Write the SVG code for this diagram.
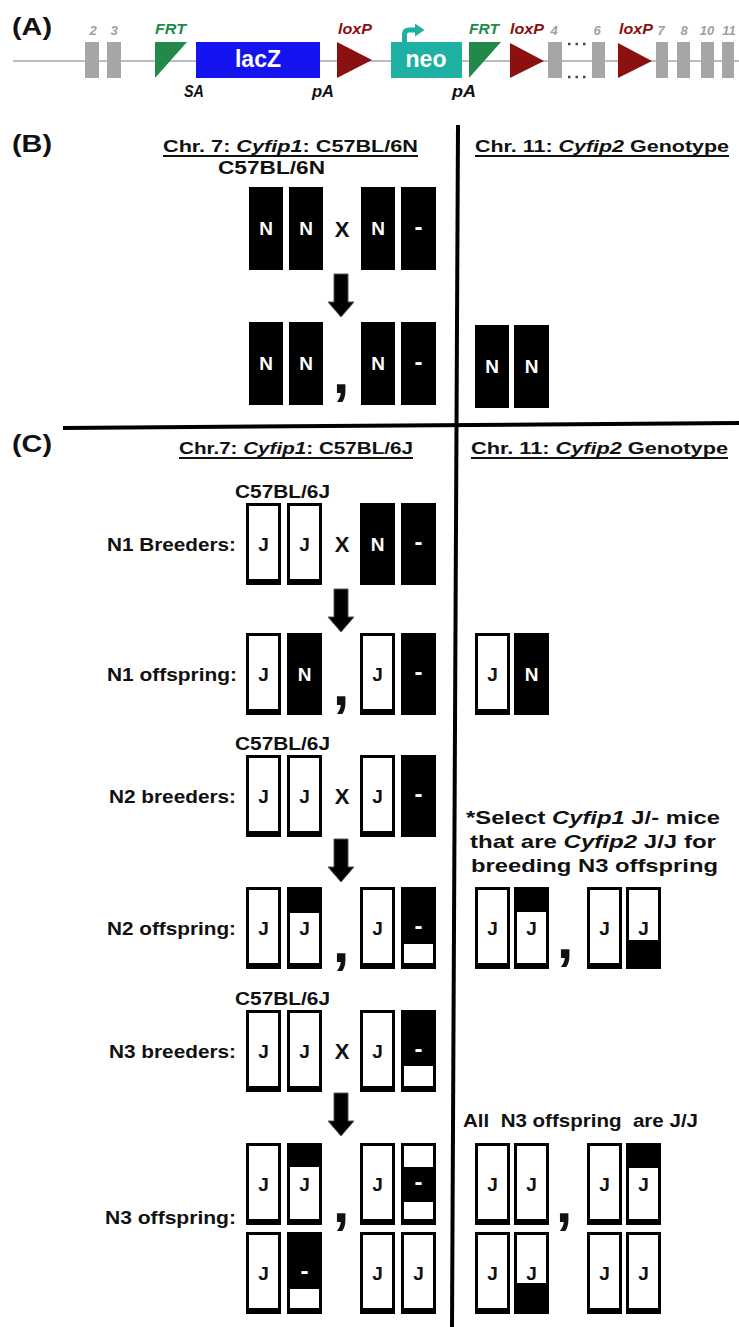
<svg xmlns="http://www.w3.org/2000/svg" width="739" height="1327" viewBox="0 0 739 1327">
<style>
text{font-family:"Liberation Sans",Arial,sans-serif;font-weight:bold}
.pl{font-size:24px;fill:#111}
.ex{font-size:13px;fill:#a0a0a0;font-style:italic;text-anchor:middle}
.frt{fill:#23894b;font-size:15px;font-style:italic}
.lox{fill:#8b1010;font-size:15px;font-style:italic}
.in{fill:#fff;font-size:23px;text-anchor:middle}
.sa{fill:#111;font-size:16px;font-style:italic}
.hd{font-size:17px;fill:#111}
.st{font-size:18px;fill:#111}
.rl{font-size:19px;fill:#111}
.tx{font-size:19px;fill:#111}
.J{font-size:19px;fill:#111;text-anchor:middle}
.N{font-size:19px;fill:#fff;text-anchor:middle}
.D{font-size:24px;fill:#fff;text-anchor:middle}
.X{font-size:22px;fill:#111;text-anchor:middle}
.cm{font-size:60px;fill:#111;text-anchor:middle}
.k{fill:#000}
.w{fill:#fff}
.exon{fill:#a6a6a6}
.ul{stroke:#111;stroke-width:2}
.arr{fill:#000;stroke:#555;stroke-width:1}
</style>
<rect width="739" height="1327" fill="#fff"/>

<!-- Part A -->
<g id="partA">
<text class="pl" x="12" y="35" textLength="40" lengthAdjust="spacingAndGlyphs">(A)</text>
<line x1="13" y1="61" x2="739" y2="61" stroke="#bdbdbd" stroke-width="2"/>
<g id="exon2"><rect class="exon" x="85" y="42" width="14" height="36"/><text class="ex" x="93" y="35">2</text></g>
<g id="exon3"><rect class="exon" x="107" y="42" width="14" height="36"/><text class="ex" x="114" y="35">3</text></g>
<g id="frt1"><polygon points="155,42 187,42 155,78" fill="#23894b"/><text class="frt" x="155" y="34" textLength="31" lengthAdjust="spacingAndGlyphs">FRT</text></g>
<g id="lacZ"><rect x="196" y="42" width="124" height="36" fill="#1414f0"/><text class="in" x="258" y="67">lacZ</text></g>
<text class="sa" x="184" y="97" textLength="20" lengthAdjust="spacingAndGlyphs">SA</text>
<text class="sa" x="312" y="97" textLength="22" lengthAdjust="spacingAndGlyphs">pA</text>
<g id="loxP1"><polygon points="337,42 337,78 372,60" fill="#8b1010"/><text class="lox" x="338" y="34" textLength="34" lengthAdjust="spacingAndGlyphs">loxP</text></g>
<g id="neo"><rect x="391" y="42" width="71" height="36" fill="#1fb0a4"/><text class="in" x="426" y="67">neo</text>
<path d="M404.5,42 V34 Q404.5,30 409,30 H416" fill="none" stroke="#1fb0a4" stroke-width="5"/>
<polygon points="415,23.5 424.5,30 415,36.5" fill="#1fb0a4"/></g>
<g id="frt2"><polygon points="469,42 501,42 469,78" fill="#23894b"/><text class="frt" x="469" y="34" textLength="30" lengthAdjust="spacingAndGlyphs">FRT</text></g>
<text class="sa" x="452" y="97" textLength="24" lengthAdjust="spacingAndGlyphs">pA</text>
<g id="loxP2"><polygon points="510,43 510,78 544,61" fill="#8b1010"/><text class="lox" x="510" y="34" textLength="34" lengthAdjust="spacingAndGlyphs">loxP</text></g>
<g id="exon4"><rect class="exon" x="548" y="42" width="14" height="36"/><text class="ex" x="554" y="35">4</text></g>
<line x1="568" y1="44" x2="590" y2="44" stroke="#444" stroke-width="2.5" stroke-dasharray="2.5 5"/>
<line x1="568" y1="77" x2="590" y2="77" stroke="#444" stroke-width="2.5" stroke-dasharray="2.5 5"/>
<g id="exon6"><rect class="exon" x="592" y="42" width="13" height="36"/><text class="ex" x="597" y="35">6</text></g>
<g id="loxP3"><polygon points="618,43 618,78 652,61" fill="#8b1010"/><text class="lox" x="619" y="34" textLength="34" lengthAdjust="spacingAndGlyphs">loxP</text></g>
<g id="exon7"><rect class="exon" x="656" y="42" width="12" height="36"/><text class="ex" x="661" y="35">7</text></g>
<g id="exon8"><rect class="exon" x="677" y="42" width="13" height="36"/><text class="ex" x="684" y="35">8</text></g>
<g id="exon10"><rect class="exon" x="701" y="42" width="13" height="36"/><text class="ex" x="707" y="35">10</text></g>
<g id="exon11"><rect class="exon" x="722" y="42" width="12" height="36"/><text class="ex" x="729" y="35">11</text></g>
</g>

<!-- dividers -->
<g id="dividers">
<line x1="458" y1="125" x2="452" y2="1327" stroke="#000" stroke-width="4"/>
<line x1="63" y1="428" x2="739" y2="423" stroke="#000" stroke-width="4"/>
</g>

<!-- Part B -->
<g id="partB-labels">
<text class="pl" x="12" y="152" textLength="40" lengthAdjust="spacingAndGlyphs">(B)</text>
<text class="hd" x="163" y="152" textLength="255" lengthAdjust="spacingAndGlyphs">Chr. 7: <tspan font-style="italic">Cyfip1</tspan>: C57BL/6N</text>
<line class="ul" x1="163" y1="156" x2="418" y2="156"/>
<text class="hd" x="475" y="152" textLength="254" lengthAdjust="spacingAndGlyphs">Chr. 11: <tspan font-style="italic">Cyfip2</tspan> Genotype</text>
<line class="ul" x1="475" y1="156" x2="729" y2="156"/>
<text class="st" x="218" y="174" textLength="107" lengthAdjust="spacingAndGlyphs">C57BL/6N</text>
<text class="X" x="342" y="237">X</text>
<text class="cm" x="341" y="393">,</text>
</g>
<g id="B1a"><rect class="k" x="249" y="187" width="34" height="83"/><text class="N" x="266" y="235">N</text></g>
<g id="B1b"><rect class="k" x="289" y="187" width="34" height="83"/><text class="N" x="306" y="235">N</text></g>
<g id="B1c"><rect class="k" x="361" y="187" width="34" height="83"/><text class="N" x="378" y="235">N</text></g>
<g id="B1d"><rect class="k" x="401" y="187" width="35" height="83"/><text class="D" x="418.5" y="235">-</text></g>
<g id="B2a"><rect class="k" x="249" y="322" width="34" height="83"/><text class="N" x="266" y="370">N</text></g>
<g id="B2b"><rect class="k" x="289" y="322" width="34" height="83"/><text class="N" x="306" y="370">N</text></g>
<g id="B2c"><rect class="k" x="361" y="322" width="34" height="83"/><text class="N" x="378" y="370">N</text></g>
<g id="B2d"><rect class="k" x="401" y="322" width="35" height="83"/><text class="D" x="418.5" y="370">-</text></g>
<g id="BRa"><rect class="k" x="475" y="325" width="34" height="83"/><text class="N" x="492" y="373">N</text></g>
<g id="BRb"><rect class="k" x="514" y="325" width="35" height="83"/><text class="N" x="531.5" y="373">N</text></g>

<!-- Part C labels -->
<g id="partC-labels">
<text class="pl" x="12" y="452" textLength="40" lengthAdjust="spacingAndGlyphs">(C)</text>
<text class="hd" x="179" y="454" textLength="234" lengthAdjust="spacingAndGlyphs">Chr.7: <tspan font-style="italic">Cyfip1</tspan>: C57BL/6J</text>
<line class="ul" x1="179" y1="458" x2="413" y2="458"/>
<text class="hd" x="471" y="454" textLength="257" lengthAdjust="spacingAndGlyphs">Chr. 11: <tspan font-style="italic">Cyfip2</tspan> Genotype</text>
<line class="ul" x1="471" y1="458" x2="728" y2="458"/>
<text class="st" x="235" y="498" textLength="95" lengthAdjust="spacingAndGlyphs">C57BL/6J</text>
<text class="st" x="235" y="750" textLength="95" lengthAdjust="spacingAndGlyphs">C57BL/6J</text>
<text class="st" x="235" y="1005" textLength="95" lengthAdjust="spacingAndGlyphs">C57BL/6J</text>
<text class="rl" x="107" y="551" textLength="129" lengthAdjust="spacingAndGlyphs">N1 Breeders:</text>
<text class="rl" x="107" y="681" textLength="130" lengthAdjust="spacingAndGlyphs">N1 offspring:</text>
<text class="rl" x="109" y="803" textLength="127" lengthAdjust="spacingAndGlyphs">N2 breeders:</text>
<text class="rl" x="107" y="935" textLength="129" lengthAdjust="spacingAndGlyphs">N2 offspring:</text>
<text class="rl" x="109" y="1058" textLength="127" lengthAdjust="spacingAndGlyphs">N3 breeders:</text>
<text class="rl" x="105" y="1224" textLength="131" lengthAdjust="spacingAndGlyphs">N3 offspring:</text>
<text class="X" x="342" y="552">X</text>
<text class="X" x="342" y="804">X</text>
<text class="X" x="342" y="1059">X</text>
<text class="cm" x="341" y="705">,</text>
<text class="cm" x="341" y="962">,</text>
<text class="cm" x="565" y="958">,</text>
<text class="cm" x="341" y="1222">,</text>
<text class="cm" x="564" y="1222">,</text>
<text class="tx" x="466" y="824" textLength="254" lengthAdjust="spacingAndGlyphs">*Select <tspan font-style="italic">Cyfip1</tspan> J/- mice</text>
<text class="tx" x="470" y="848" textLength="246" lengthAdjust="spacingAndGlyphs">that are <tspan font-style="italic">Cyfip2</tspan> J/J for</text>
<text class="tx" x="471" y="872" textLength="247" lengthAdjust="spacingAndGlyphs">breeding N3 offspring</text>
<text class="tx" x="463" y="1127" textLength="235" lengthAdjust="spacingAndGlyphs" style="white-space:pre">All  N3 offspring  are J/J</text>
</g>

<!-- N1 breeders -->
<g id="C1a"><rect class="k" x="246" y="503" width="35" height="82"/><rect class="w" x="249" y="506" width="29" height="73"/><text class="J" x="263.5" y="551">J</text></g>
<g id="C1b"><rect class="k" x="287" y="503" width="35" height="82"/><rect class="w" x="290" y="506" width="29" height="73"/><text class="J" x="304.5" y="551">J</text></g>
<g id="C1c"><rect class="k" x="360" y="503" width="35" height="82"/><text class="N" x="377.5" y="551">N</text></g>
<g id="C1d"><rect class="k" x="401" y="503" width="35" height="82"/><text class="D" x="418.5" y="550">-</text></g>

<!-- N1 offspring -->
<g id="C2a"><rect class="k" x="246" y="633" width="35" height="82"/><rect class="w" x="249" y="636" width="29" height="73"/><text class="J" x="263.5" y="681">J</text></g>
<g id="C2b"><rect class="k" x="287" y="633" width="35" height="82"/><text class="N" x="304.5" y="681">N</text></g>
<g id="C2c"><rect class="k" x="360" y="633" width="35" height="82"/><rect class="w" x="363" y="636" width="29" height="73"/><text class="J" x="377.5" y="681">J</text></g>
<g id="C2d"><rect class="k" x="401" y="633" width="35" height="82"/><text class="D" x="418.5" y="680">-</text></g>
<g id="C2R1"><rect class="k" x="475" y="633" width="35" height="82"/><rect class="w" x="478" y="636" width="29" height="73"/><text class="J" x="492.5" y="681">J</text></g>
<g id="C2R2"><rect class="k" x="514" y="633" width="35" height="82"/><text class="N" x="531.5" y="681">N</text></g>

<!-- N2 breeders -->
<g id="C3a"><rect class="k" x="246" y="755" width="35" height="82"/><rect class="w" x="249" y="758" width="29" height="73"/><text class="J" x="263.5" y="803">J</text></g>
<g id="C3b"><rect class="k" x="287" y="755" width="35" height="82"/><rect class="w" x="290" y="758" width="29" height="73"/><text class="J" x="304.5" y="803">J</text></g>
<g id="C3c"><rect class="k" x="360" y="755" width="35" height="82"/><rect class="w" x="363" y="758" width="29" height="73"/><text class="J" x="377.5" y="803">J</text></g>
<g id="C3d"><rect class="k" x="401" y="755" width="35" height="82"/><text class="D" x="418.5" y="802">-</text></g>

<!-- N2 offspring -->
<g id="C4a"><rect class="k" x="246" y="887" width="35" height="82"/><rect class="w" x="249" y="890" width="29" height="73"/><text class="J" x="263.5" y="935">J</text></g>
<g id="C4b"><rect class="k" x="287" y="887" width="35" height="82"/><rect class="w" x="290" y="913" width="29" height="50"/><text class="J" x="304.5" y="935">J</text></g>
<g id="C4c"><rect class="k" x="360" y="887" width="35" height="82"/><rect class="w" x="363" y="890" width="29" height="73"/><text class="J" x="377.5" y="935">J</text></g>
<g id="C4d"><rect class="k" x="401" y="887" width="35" height="82"/><rect class="w" x="404" y="944" width="29" height="19"/><text class="D" x="418.5" y="934">-</text></g>
<g id="C4R1"><rect class="k" x="475" y="887" width="35" height="82"/><rect class="w" x="478" y="890" width="29" height="73"/><text class="J" x="492.5" y="935">J</text></g>
<g id="C4R2"><rect class="k" x="514" y="887" width="35" height="82"/><rect class="w" x="517" y="912" width="29" height="51"/><text class="J" x="531.5" y="935">J</text></g>
<g id="C4R3"><rect class="k" x="587" y="887" width="35" height="82"/><rect class="w" x="590" y="890" width="29" height="73"/><text class="J" x="604.5" y="935">J</text></g>
<g id="C4R4"><rect class="k" x="626" y="887" width="35" height="82"/><rect class="w" x="629" y="890" width="29" height="50"/><text class="J" x="643.5" y="935">J</text></g>

<!-- N3 breeders -->
<g id="C5a"><rect class="k" x="246" y="1010" width="35" height="82"/><rect class="w" x="249" y="1013" width="29" height="73"/><text class="J" x="263.5" y="1058">J</text></g>
<g id="C5b"><rect class="k" x="287" y="1010" width="35" height="82"/><rect class="w" x="290" y="1013" width="29" height="73"/><text class="J" x="304.5" y="1058">J</text></g>
<g id="C5c"><rect class="k" x="360" y="1010" width="35" height="82"/><rect class="w" x="363" y="1013" width="29" height="73"/><text class="J" x="377.5" y="1058">J</text></g>
<g id="C5d"><rect class="k" x="401" y="1010" width="35" height="82"/><rect class="w" x="404" y="1066" width="29" height="20"/><text class="D" x="418.5" y="1057">-</text></g>

<!-- N3 offspring row 1 -->
<g id="C6a"><rect class="k" x="246" y="1143" width="35" height="82"/><rect class="w" x="249" y="1146" width="29" height="73"/><text class="J" x="263.5" y="1191">J</text></g>
<g id="C6b"><rect class="k" x="287" y="1143" width="35" height="82"/><rect class="w" x="290" y="1167" width="29" height="52"/><text class="J" x="304.5" y="1191">J</text></g>
<g id="C6c"><rect class="k" x="360" y="1143" width="35" height="82"/><rect class="w" x="363" y="1146" width="29" height="73"/><text class="J" x="377.5" y="1191">J</text></g>
<g id="C6d"><rect class="k" x="401" y="1143" width="35" height="82"/><rect class="w" x="404" y="1146" width="29" height="21"/><rect class="w" x="404" y="1202" width="29" height="17"/><text class="D" x="418.5" y="1190">-</text></g>
<g id="C6R1"><rect class="k" x="475" y="1143" width="35" height="82"/><rect class="w" x="478" y="1146" width="29" height="73"/><text class="J" x="492.5" y="1191">J</text></g>
<g id="C6R2"><rect class="k" x="514" y="1143" width="35" height="82"/><rect class="w" x="517" y="1146" width="29" height="73"/><text class="J" x="531.5" y="1191">J</text></g>
<g id="C6R3"><rect class="k" x="587" y="1143" width="35" height="82"/><rect class="w" x="590" y="1146" width="29" height="73"/><text class="J" x="604.5" y="1191">J</text></g>
<g id="C6R4"><rect class="k" x="626" y="1143" width="35" height="82"/><rect class="w" x="629" y="1168" width="29" height="51"/><text class="J" x="643.5" y="1191">J</text></g>

<!-- N3 offspring row 2 -->
<g id="C7a"><rect class="k" x="246" y="1232" width="35" height="82"/><rect class="w" x="249" y="1235" width="29" height="73"/><text class="J" x="263.5" y="1280">J</text></g>
<g id="C7b"><rect class="k" x="287" y="1232" width="35" height="82"/><rect class="w" x="290" y="1289" width="29" height="19"/><text class="D" x="304.5" y="1279">-</text></g>
<g id="C7c"><rect class="k" x="360" y="1232" width="35" height="82"/><rect class="w" x="363" y="1235" width="29" height="73"/><text class="J" x="377.5" y="1280">J</text></g>
<g id="C7d"><rect class="k" x="401" y="1232" width="35" height="82"/><rect class="w" x="404" y="1235" width="29" height="73"/><text class="J" x="418.5" y="1280">J</text></g>
<g id="C7R1"><rect class="k" x="475" y="1232" width="35" height="82"/><rect class="w" x="478" y="1235" width="29" height="73"/><text class="J" x="492.5" y="1280">J</text></g>
<g id="C7R2"><rect class="k" x="514" y="1232" width="35" height="82"/><rect class="w" x="517" y="1235" width="29" height="48"/><text class="J" x="531.5" y="1280">J</text></g>
<g id="C7R3"><rect class="k" x="587" y="1232" width="35" height="82"/><rect class="w" x="590" y="1235" width="29" height="73"/><text class="J" x="604.5" y="1280">J</text></g>
<g id="C7R4"><rect class="k" x="626" y="1232" width="35" height="82"/><rect class="w" x="629" y="1235" width="29" height="73"/><text class="J" x="643.5" y="1280">J</text></g>

<!-- connectors -->
<g id="connectors">
<path class="arr" d="M334,274 H348 V302 H354 L341,317 L328,302 H334 Z"/>
<path class="arr" d="M334,589 H348 V617 H354 L341,632 L328,617 H334 Z"/>
<path class="arr" d="M334,839 H348 V867 H354 L341,882 L328,867 H334 Z"/>
<path class="arr" d="M334,1093 H348 V1121 H354 L341,1136 L328,1121 H334 Z"/>
</g>
</svg>
